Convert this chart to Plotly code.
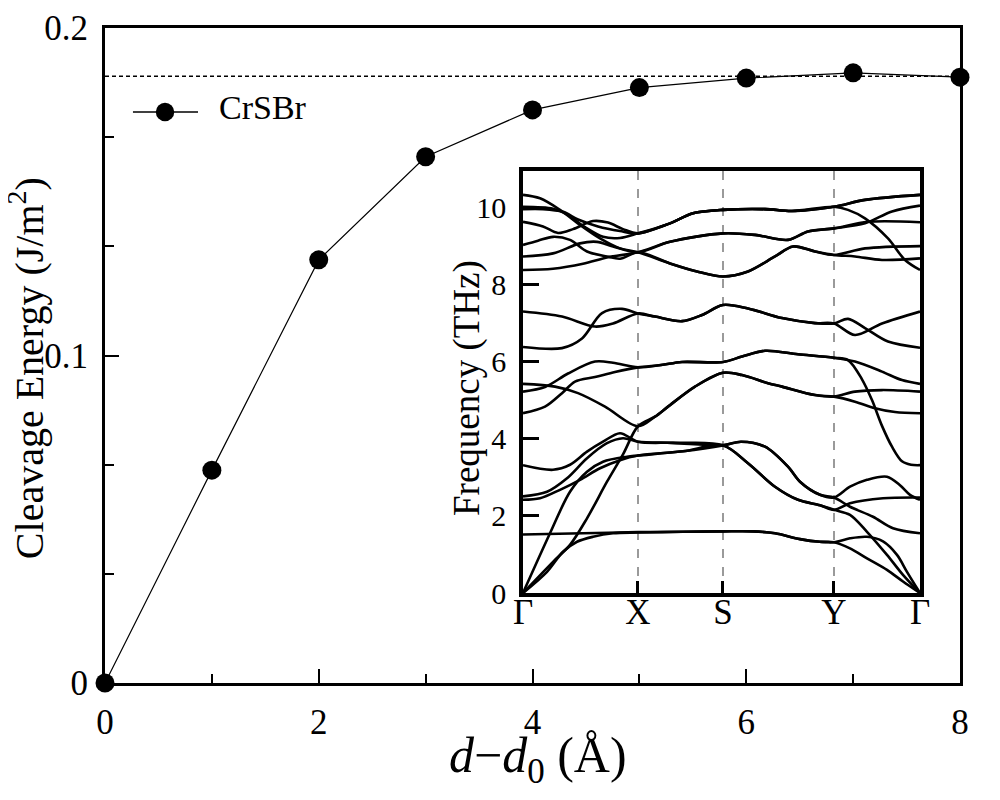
import plotly.graph_objects as go

# ── cleavage energy vs separation ──
sep = [0, 1, 2, 3, 4, 5, 6, 7, 8]
energy = [0.0, 0.0650, 0.1292, 0.1607, 0.1750, 0.1818, 0.1847, 0.1863, 0.1850]
e_sat = 0.1853   # dotted saturation level

# ── phonon path (Γ X S Y Γ) ──
kpath = [0, 115, 200, 311, 397]
klabels = ['Γ', 'X', 'S', 'Y', 'Γ']

# bands: (k, frequency in THz)
a1_k = [0, 27, 47, 64, 80, 104, 115, 160, 200, 218, 242, 265, 277, 297, 311, 327, 350, 370, 397]
a1_f = [0, 1.55, 2.63, 3.15, 3.41, 3.54, 3.57, 3.68, 3.83, 3.93, 3.80, 3.28, 2.89, 2.55, 2.48, 2.24, 1.98, 1.68, 1.55]
a2_k = [0, 30, 47, 64, 84, 100, 115, 132, 145, 172, 200, 219, 245, 259, 292, 311, 332, 352, 372, 397]
a2_f = [0, 0.81, 1.25, 1.94, 2.89, 3.60, 4.33, 4.58, 4.84, 5.36, 5.72, 5.66, 5.45, 5.36, 5.14, 5.10, 4.97, 4.80, 4.70, 4.67]
a3_k = [0, 24, 40, 54, 70, 90, 115, 160, 200, 230, 252, 277, 297, 311, 327, 344, 360, 374, 384, 397]
a3_f = [0, 0.55, 1.07, 1.33, 1.46, 1.55, 1.57, 1.59, 1.60, 1.60, 1.55, 1.40, 1.33, 1.32, 1.42, 1.46, 1.34, 0.99, 0.55, 0]
b1_k = [0, 60, 115, 160, 200, 230, 252, 277, 297, 311, 327, 344, 364, 380, 397]
b1_f = [1.52, 1.55, 1.58, 1.59, 1.60, 1.60, 1.55, 1.40, 1.33, 1.32, 1.16, 0.90, 0.60, 0.30, 0]
o1_k = [0, 24, 44, 64, 84, 100, 115, 150, 200, 218, 242, 265, 277, 297, 311, 327, 344, 364, 377, 387, 397]
o1_f = [2.51, 2.63, 2.98, 3.50, 3.89, 4.02, 3.93, 3.90, 3.84, 3.93, 3.80, 3.28, 2.89, 2.55, 2.48, 2.76, 2.94, 3.02, 2.80, 2.55, 2.42]
o2_k = [0, 17, 37, 57, 77, 97, 115, 160, 200, 225, 252, 275, 297, 311, 327, 344, 364, 380, 397]
o2_f = [2.42, 2.46, 2.68, 2.94, 3.24, 3.45, 3.57, 3.68, 3.83, 3.37, 2.76, 2.42, 2.28, 2.16, 2.03, 1.59, 0.99, 0.47, 0]
o3_k = [0, 30, 47, 64, 80, 97, 115, 150, 200, 225, 252, 275, 297, 311, 327, 360, 397]
o3_f = [3.32, 3.20, 3.33, 3.67, 3.93, 4.15, 3.93, 3.90, 3.84, 3.37, 2.76, 2.42, 2.28, 2.16, 2.33, 2.46, 2.48]
f1_k = [0, 32, 55, 82, 115, 132, 145, 172, 200, 219, 245, 259, 292, 311, 332, 359, 397]
f1_f = [5.43, 5.36, 5.19, 4.84, 4.33, 4.58, 4.84, 5.36, 5.72, 5.66, 5.45, 5.36, 5.14, 5.10, 5.23, 5.27, 5.23]
f2_k = [0, 22, 45, 72, 90, 115, 138, 159, 200, 219, 242, 275, 311, 332, 359, 379, 397]
f2_f = [5.23, 5.35, 5.70, 6.01, 5.98, 5.86, 5.92, 6.00, 6.00, 6.14, 6.29, 6.20, 6.11, 6.01, 5.75, 5.53, 5.43]
f3_k = [0, 22, 39, 52, 72, 92, 115, 138, 159, 200, 219, 242, 275, 311, 325, 339, 349, 359, 369, 379, 388, 397]
f3_f = [4.67, 4.84, 5.19, 5.49, 5.61, 5.74, 5.86, 5.92, 6.00, 6.00, 6.14, 6.29, 6.20, 6.11, 6.05, 5.55, 5.01, 4.34, 3.80, 3.42, 3.33, 3.32]
m1_k = [0, 39, 72, 90, 115, 132, 159, 179, 200, 225, 259, 292, 311, 325, 342, 365, 397]
m1_f = [7.31, 7.18, 6.92, 7.00, 7.26, 7.18, 7.06, 7.22, 7.48, 7.39, 7.14, 7.01, 7.00, 7.12, 6.88, 6.53, 6.37]
m2_k = [0, 39, 59, 79, 99, 115, 132, 159, 179, 200, 225, 259, 292, 311, 332, 359, 397]
m2_f = [6.39, 6.36, 6.61, 7.27, 7.38, 7.26, 7.18, 7.06, 7.22, 7.48, 7.39, 7.14, 7.01, 7.00, 6.70, 7.00, 7.31]
u1_k = [0, 17, 37, 57, 77, 97, 115, 147, 174, 200, 225, 252, 270, 292, 311, 342, 397]
u1_f = [10.34, 10.25, 9.95, 9.56, 9.21, 8.95, 8.85, 8.56, 8.35, 8.22, 8.35, 8.74, 9.00, 8.87, 8.78, 8.95, 9.01]
u2_k = [0, 30, 45, 62, 80, 97, 115, 147, 170, 200, 242, 269, 311, 342, 397]
u2_f = [10.03, 9.98, 9.82, 9.50, 9.25, 9.22, 9.34, 9.60, 9.86, 9.95, 9.97, 9.92, 10.03, 10.21, 10.34]
u3_k = [0, 20, 40, 55, 75, 97, 115, 147, 170, 200, 242, 269, 311, 325, 342, 365, 382, 397]
u3_f = [9.97, 9.97, 9.90, 9.70, 9.52, 9.40, 9.34, 9.60, 9.86, 9.95, 9.97, 9.92, 10.03, 9.95, 9.73, 9.21, 8.65, 8.39]
u4_k = [0, 20, 35, 50, 70, 85, 100, 115, 147, 170, 200, 242, 269, 311, 342, 397]
u4_f = [9.64, 9.52, 9.35, 9.45, 9.66, 9.62, 9.45, 9.34, 9.60, 9.86, 9.95, 9.97, 9.92, 10.03, 10.21, 10.34]
u5_k = [0, 15, 30, 47, 64, 84, 97, 115, 147, 174, 200, 225, 252, 270, 292, 311, 332, 359, 397]
u5_f = [9.04, 9.15, 9.25, 9.17, 8.87, 8.74, 8.68, 8.85, 8.56, 8.35, 8.22, 8.35, 8.74, 9.00, 8.87, 8.78, 8.74, 8.65, 8.69]
u6_k = [0, 30, 57, 74, 90, 115, 147, 200, 232, 265, 285, 311, 345, 397]
u6_f = [8.74, 8.82, 9.08, 9.12, 9.00, 8.85, 9.12, 9.34, 9.30, 9.17, 9.39, 9.47, 9.64, 9.63]
u7_k = [0, 30, 60, 85, 115, 147, 200, 232, 265, 285, 311, 342, 369, 397]
u7_f = [8.39, 8.42, 8.55, 8.72, 8.85, 9.12, 9.34, 9.30, 9.17, 9.39, 9.47, 9.60, 9.91, 10.06]

bands = [(a1_k, a1_f), (a2_k, a2_f), (a3_k, a3_f), (b1_k, b1_f),
         (o1_k, o1_f), (o2_k, o2_f), (o3_k, o3_f),
         (f1_k, f1_f), (f2_k, f2_f), (f3_k, f3_f),
         (m1_k, m1_f), (m2_k, m2_f),
         (u1_k, u1_f), (u2_k, u2_f), (u3_k, u3_f), (u4_k, u4_f),
         (u5_k, u5_f), (u6_k, u6_f), (u7_k, u7_f)]

SERIF = 'Liberation Serif'

fig = go.Figure()

# saturation level
fig.add_trace(go.Scatter(
    x=[sep[0], sep[-1]], y=[e_sat, e_sat], mode='lines',
    line=dict(color='black', width=1.5, dash='4px,3px'),
    hoverinfo='skip', showlegend=False))

# cleavage energy curve
fig.add_trace(go.Scatter(
    x=sep, y=energy, mode='lines+markers', name='CrSBr',
    line=dict(color='black', width=1.2),
    marker=dict(color='black', size=19),
    cliponaxis=False, showlegend=False))

# ── inset: phonon dispersion ──
for k, f in bands:
    fig.add_trace(go.Scatter(
        x=k, y=f, mode='lines', xaxis='x2', yaxis='y2',
        line=dict(color='black', width=2.6, shape='spline', smoothing=0.9),
        hoverinfo='skip', showlegend=False))

# page body adds ~8px offset, margins compensate for it
fig.update_layout(
    width=1000, height=800,
    margin=dict(l=97, r=48, t=20, b=125),
    paper_bgcolor='white', plot_bgcolor='white',
    font=dict(family=SERIF, color='black'),
    xaxis=dict(
        domain=[0, 1], range=[0, 8], dtick=2, automargin=False,
        ticks='inside', ticklen=14, tickwidth=2, tickcolor='black',
        minor=dict(dtick=1, ticks='inside', ticklen=9, tickwidth=2, tickcolor='black'),
        showline=True, linewidth=3, linecolor='black', mirror=True,
        showgrid=False, zeroline=False,
        tickfont=dict(size=35), ticklabelstandoff=6,
    ),
    yaxis=dict(
        domain=[0, 1], range=[0, 0.2], dtick=0.1, automargin=False,
        ticks='inside', ticklen=14, tickwidth=2, tickcolor='black',
        minor=dict(dtick=0.1 / 3, ticks='inside', ticklen=9, tickwidth=2, tickcolor='black'),
        showline=True, linewidth=3, linecolor='black', mirror=True,
        showgrid=False, zeroline=False,
        tickfont=dict(size=35), ticklabelstandoff=7,
    ),
    xaxis2=dict(
        domain=[0.4889, 0.9532], anchor='y2', range=[kpath[0], kpath[-1]],
        tickmode='array', tickvals=kpath, ticktext=klabels, automargin=False,
        ticks='inside', ticklen=12, tickwidth=2.5, tickcolor='black',
        showline=True, linewidth=3.5, linecolor='black', mirror=True,
        showgrid=True, gridcolor='#9a9a9a', griddash='dash', gridwidth=1.5,
        zeroline=False, tickfont=dict(size=35), ticklabelstandoff=-15,
    ),
    yaxis2=dict(
        domain=[0.1374, 0.7817], anchor='x2', range=[0, 10.96], dtick=2,
        automargin=False,
        ticks='inside', ticklen=16, tickwidth=3, tickcolor='black',
        showline=True, linewidth=3.5, linecolor='black', mirror=True,
        showgrid=False, zeroline=False,
        tickfont=dict(size=30), ticklabelstandoff=7,
    ),
)

# axis titles
fig.add_annotation(x=0.506, y=-0.116, xref='paper', yref='paper',
                   text='<i>d</i>−<i>d</i><sub>0</sub> (Å)', showarrow=False,
                   xanchor='center', yanchor='middle', font=dict(size=50))
fig.add_annotation(x=-0.091, y=0.481, xref='paper', yref='paper',
                   text='Cleavage Energy (J/m<sup>2</sup>)', showarrow=False, textangle=-90,
                   xanchor='center', yanchor='middle', font=dict(size=40))
fig.add_annotation(x=0.4234, y=0.4504, xref='paper', yref='paper',
                   text='Frequency (THz)', showarrow=False, textangle=-90,
                   xanchor='center', yanchor='middle', font=dict(size=37))

# legend key drawn by hand (long line with marker), like the original
fig.add_shape(type='line', xref='paper', yref='paper',
              x0=0.0327, x1=0.1088, y0=0.8718, y1=0.8718,
              line=dict(color='black', width=1.5))
fig.add_shape(type='circle', xref='paper', yref='paper',
              x0=0.0702 - 0.0108, x1=0.0702 + 0.0108,
              y0=0.8718 - 0.0141, y1=0.8718 + 0.0141,
              fillcolor='black', line=dict(color='black', width=0))
fig.add_annotation(x=0.131, y=0.878, xref='paper', yref='paper',
                   text='CrSBr', showarrow=False, xanchor='left', yanchor='middle',
                   font=dict(size=34, family=SERIF, color='black'))

fig.write_html('out.html')
